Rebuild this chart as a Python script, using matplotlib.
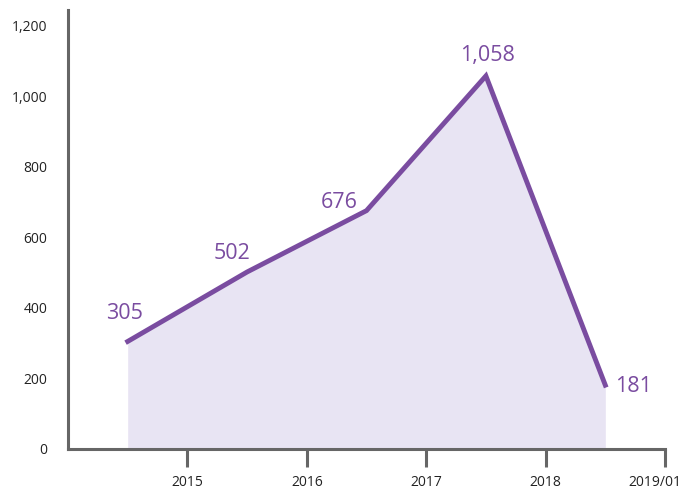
import numpy as np
import matplotlib.pyplot as plt
import matplotlib.transforms as mtransforms

plt.rcParams['font.family'] = ['Open Sans', 'DejaVu Sans']

# data
years = ['2015', '2016', '2017', '2018', '2019/01']
values = [305, 502, 676, 1058, 181]
value_labels = ['305', '502', '676', '1,058', '181']
y_ticks = [0, 200, 400, 600, 800, 1000, 1200]
y_tick_labels = ['0', '200', '400', '600', '800', '1,000', '1,200']

line_col = '#7A4CA0'
fill_col = '#E8E4F3'
axis_col = '#666666'

fig = plt.figure(figsize=(6.88, 4.92), dpi=100)
ax = fig.add_axes([0.0988, 0.0874, 0.8678, 0.8923])

x = np.arange(len(values)) + 0.5
ax.fill_between(x, 0, values, color=fill_col, lw=0)
ax.plot(x, values, color=line_col, lw=3.5, solid_joinstyle='miter')

# value labels (offsets in points)
offsets = [(-2, 20), (-11, 13), (-20, 6), (1, 15), (20, -1)]
for xi, v, lab, off in zip(x, values, value_labels, offsets):
    ax.annotate(lab, (xi, v), xytext=off, textcoords='offset points',
                ha='center', va='center', color=line_col, fontsize=15.5)

ax.set_xlim(0, 5)
ax.set_ylim(0, 1245)
ax.set_xticks(np.arange(1, 6))
ax.set_xticklabels(years)
ax.set_yticks(y_ticks)
ax.set_yticklabels(y_tick_labels)

for s in ['top', 'right']:
    ax.spines[s].set_visible(False)
for s in ['left', 'bottom']:
    ax.spines[s].set_color(axis_col)
    ax.spines[s].set_linewidth(2.2)

ax.tick_params(axis='x', length=13, width=2.2, color=axis_col, pad=6,
               labelsize=10, labelcolor='#222222')
ax.tick_params(axis='y', length=0, pad=15, labelsize=10, labelcolor='#222222')

# nudge last label left so it fits
lbl = ax.get_xticklabels()[-1]
lbl.set_transform(lbl.get_transform() + mtransforms.ScaledTranslation(-10/100, 0, fig.dpi_scale_trans))

fig.savefig('out.png', dpi=100)
